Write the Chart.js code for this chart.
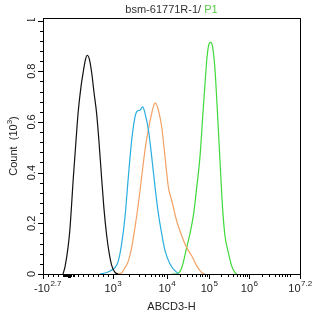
<!DOCTYPE html>
<html>
<head>
<meta charset="utf-8">
<script src="https://cdn.jsdelivr.net/npm/chart.js@4.4.1/dist/chart.umd.min.js"></script>
<style>
  html, body { margin: 0; padding: 0; background: #fff; }
  #wrap { width: 314px; height: 317px; position: relative; }
</style>
</head>
<body>
<div id="wrap"><canvas id="histo" width="314" height="317"></canvas></div>
<script>
// ── data (x in display channels 0..1000, y in count x10^3) ──
const blackX = [78, 86, 98, 105, 118, 128, 137, 148, 157, 165, 172, 181, 190, 198, 209, 218, 228, 237, 248, 257, 267, 280, 292];
const blackY = [0, 0.03, 0.11, 0.18, 0.38, 0.52, 0.64, 0.74, 0.80, 0.845, 0.863, 0.845, 0.79, 0.72, 0.63, 0.52, 0.38, 0.26, 0.15, 0.085, 0.035, 0.006, 0];

const cyanX = [222, 245, 261, 280, 293, 306, 319, 332, 345, 358, 367, 377, 388, 397, 410, 423, 436, 449, 462, 475, 494, 507, 527];
const cyanY = [0, 0.005, 0.012, 0.025, 0.051, 0.119, 0.224, 0.382, 0.527, 0.62, 0.643, 0.646, 0.659, 0.634, 0.57, 0.462, 0.343, 0.238, 0.158, 0.091, 0.04, 0.02, 0];

const orangeX = [284, 293, 306, 319, 332, 345, 358, 371, 384, 397, 410, 423, 433, 438, 449, 462, 475, 488, 501, 520, 540, 559, 579, 598, 618, 630];
const orangeY = [0, 0.001, 0.005, 0.025, 0.051, 0.104, 0.184, 0.277, 0.384, 0.491, 0.57, 0.634, 0.671, 0.674, 0.646, 0.579, 0.46, 0.342, 0.29, 0.21, 0.15, 0.104, 0.071, 0.032, 0.005, 0];

const greenX = [502, 520, 540, 559, 572, 585, 598, 611, 621, 630, 639, 647, 653, 660, 669, 678, 689, 699, 708, 721, 734, 747, 755];
const greenY = [0, 0.001, 0.025, 0.104, 0.16, 0.23, 0.34, 0.465, 0.614, 0.745, 0.863, 0.91, 0.914, 0.896, 0.81, 0.653, 0.44, 0.257, 0.151, 0.085, 0.032, 0.005, 0];

// axis ticks
const xTickVals = [0, 272, 482, 646, 802, 1000];
const xTickSign = ['-', '', '', '', '', ''];
const xTickExps = ['2.7', '3', '4', '5', '6', '7.2'];
const yTickVals = [0, 0.2, 0.4, 0.6, 0.8, 1];
const yTickText = ['0', '0.2', '0.4', '0.6', '0.8', '1'];

const FONT = '"Liberation Sans", Arial, sans-serif';

const pts = (xs, ys) => xs.map((x, i) => ({ x, y: ys[i] }));

// log-spaced minor ticks inside decades (display channels)
function minorTicks() {
  const out = [];
  const decades = [[272, 482], [482, 646], [646, 802], [802, 967]];
  decades.forEach(([a, b]) => {
    for (let m = 2; m <= 9; m++) {
      const v = a + Math.log10(m) * (b - a);
      if (v < 1000) out.push(v);
    }
  });
  // linear region near zero
  for (let v = 19.5; v < 272; v += 19.5) out.push(v);
  for (let v = 80; v <= 122; v += 5) out.push(v);
  return out;
}

const axesPlugin = {
  id: 'axesPlugin',
  afterDraw(chart) {
    const { ctx, chartArea: a, scales } = chart;
    const xs = scales.x, ys = scales.y;
    ctx.save();
    ctx.strokeStyle = '#000';
    ctx.lineWidth = 1;
    ctx.strokeRect(Math.round(a.left) + 0.5, Math.round(a.top) + 0.5, Math.round(a.right - a.left), Math.round(a.bottom - a.top));

    // y ticks
    ctx.beginPath();
    for (let i = 0; i <= 25; i++) {
      const v = i * 0.04;
      const py = Math.round(ys.getPixelForValue(v)) + 0.5;
      const len = i % 5 === 0 ? 5 : 3;
      ctx.moveTo(a.left - len, py);
      ctx.lineTo(a.left, py);
    }
    // x ticks
    xTickVals.forEach(v => {
      const px = Math.round(xs.getPixelForValue(v)) + 0.5;
      ctx.moveTo(px, a.bottom);
      ctx.lineTo(px, a.bottom + 5);
    });
    minorTicks().forEach(v => {
      const px = Math.round(xs.getPixelForValue(v)) + 0.5;
      ctx.moveTo(px, a.bottom);
      ctx.lineTo(px, a.bottom + 3);
    });
    ctx.stroke();
    // zero marker
    ctx.fillStyle = '#000';
    ctx.fillRect(Math.round(xs.getPixelForValue(101)) - 1, a.bottom + 1, 3, 3);

    // y labels (rotated)
    ctx.fillStyle = '#222';
    ctx.font = '11px ' + FONT;
    ctx.textAlign = 'center';
    ctx.textBaseline = 'middle';
    yTickVals.forEach((v, i) => {
      const py = ys.getPixelForValue(v);
      ctx.save();
      if (v === 1) {
        ctx.beginPath();
        ctx.rect(0, a.top, a.left, 3);
        ctx.clip();
      }
      ctx.translate(a.left - 11, py);
      ctx.rotate(-Math.PI / 2);
      ctx.fillText(yTickText[i], 0, 0);
      ctx.restore();
    });

    // x labels with superscripts
    ctx.textBaseline = 'alphabetic';
    ctx.textAlign = 'left';
    xTickVals.forEach((v, i) => {
      const px = xs.getPixelForValue(v);
      ctx.font = '11px ' + FONT;
      const base = xTickSign[i] + '10';
      const bw = ctx.measureText(base).width;
      ctx.font = '8px ' + FONT;
      const ew = ctx.measureText(xTickExps[i]).width;
      let x0 = px - (bw + ew) / 2;
      if (i === 0) x0 = 34;
      ctx.font = '11px ' + FONT;
      ctx.fillText(base, x0, 292);
      ctx.font = '8px ' + FONT;
      ctx.fillText(xTickExps[i], x0 + bw + 0.5, 286);
    });

    // x title
    ctx.font = '11px ' + FONT;
    ctx.textAlign = 'center';
    ctx.fillText('ABCD3-H', (a.left + a.right) / 2, 310);

    // y title, rotated: Count (10^3)
    ctx.save();
    ctx.translate(13, (a.top + a.bottom) / 2);
    ctx.rotate(-Math.PI / 2);
    ctx.textAlign = 'left';
    ctx.font = '11px ' + FONT;
    const p1 = 'Count  (10', p2 = '3', p3 = ')';
    const w1 = ctx.measureText(p1).width, w3 = ctx.measureText(p3).width;
    ctx.font = '8px ' + FONT;
    const w2 = ctx.measureText(p2).width;
    let sx = -(w1 + w2 + w3) / 2;
    ctx.font = '11px ' + FONT;
    ctx.fillText(p1, sx, 4);
    ctx.font = '8px ' + FONT;
    ctx.fillText(p2, sx + w1, -1);
    ctx.font = '11px ' + FONT;
    ctx.fillText(p3, sx + w1 + w2, 4);
    ctx.restore();

    // title
    ctx.font = '11px ' + FONT;
    ctx.textAlign = 'left';
    const t1 = 'bsm-61771R-1/ ', t2 = 'P1';
    const tw = ctx.measureText(t1 + t2).width;
    const tx = (a.left + a.right) / 2 - tw / 2;
    ctx.fillStyle = '#333';
    ctx.fillText(t1, tx, 13);
    ctx.fillStyle = '#55cc44';
    ctx.fillText(t2, tx + ctx.measureText(t1).width, 13);
    ctx.restore();
  }
};

const line = (label, xs, ys, color) => ({
  label, data: pts(xs, ys), borderColor: color, borderWidth: 1.2,
  pointRadius: 0, fill: false, cubicInterpolationMode: 'monotone'
});

new Chart(document.getElementById('histo'), {
  type: 'line',
  data: {
    datasets: [
      line('Control', blackX, blackY, '#111111'),
      line('Cyan', cyanX, cyanY, '#2aaee0'),
      line('Orange', orangeX, orangeY, '#f2a266'),
      line('P1', greenX, greenY, '#3fd93a')
    ]
  },
  options: {
    responsive: false,
    animation: false,
    layout: { padding: { left: 43, right: 14, top: 18, bottom: 43 } },
    plugins: { legend: { display: false }, tooltip: { enabled: false } },
    scales: {
      x: { type: 'linear', min: 0, max: 1000, display: false },
      y: { min: 0, max: 1.01, display: false }
    }
  },
  plugins: [axesPlugin]
});
</script>
</body>
</html>
